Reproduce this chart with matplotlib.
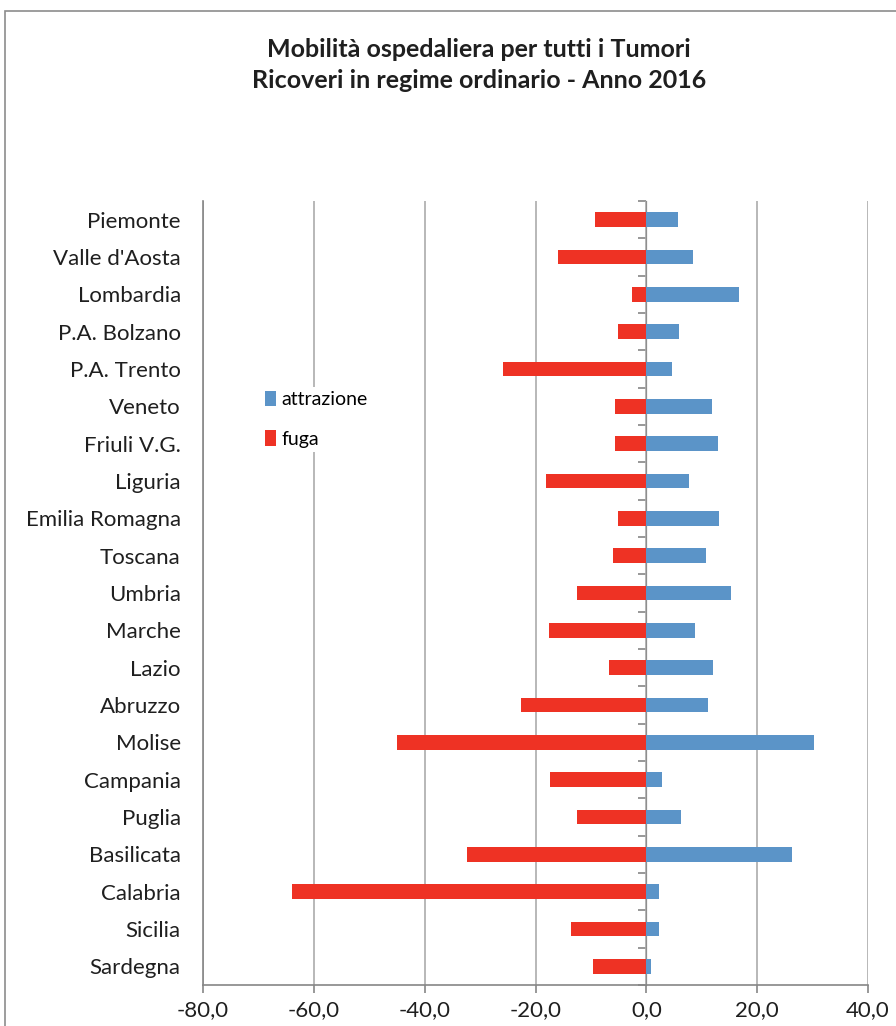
import matplotlib
matplotlib.use("Agg")
import matplotlib.pyplot as plt
import numpy as np
from matplotlib.patches import Patch, Rectangle

FONT = ["Lato", "DejaVu Sans"]
plt.rcParams["font.family"] = FONT

TITLE = "Mobilità ospedaliera per tutti i Tumori\nRicoveri in regime ordinario - Anno 2016"

regions = [
    "Piemonte", "Valle d'Aosta", "Lombardia", "P.A. Bolzano", "P.A. Trento",
    "Veneto", "Friuli V.G.", "Liguria", "Emilia Romagna", "Toscana",
    "Umbria", "Marche", "Lazio", "Abruzzo", "Molise", "Campania",
    "Puglia", "Basilicata", "Calabria", "Sicilia", "Sardegna",
]
attrazione = [5.7, 8.4, 16.7, 5.9, 4.7, 11.8, 13.0, 7.7, 13.1, 10.7,
              15.3, 8.7, 12.1, 11.1, 30.2, 2.9, 6.2, 26.3, 2.3, 2.3, 0.9]
fuga = [-9.3, -15.9, -2.6, -5.1, -25.8, -5.6, -5.6, -18.1, -5.1, -6.0,
        -12.6, -17.5, -6.7, -22.7, -45.0, -17.4, -12.6, -32.3, -64.0, -13.6, -9.7]
x_ticks = [-80, -60, -40, -20, 0, 20, 40]

BLUE = "#5b94c8"
RED = "#ee3224"
GRID = "#ababab"
AXIS = "#868686"
TEXT = "#1f1f1f"

fig = plt.figure(figsize=(8.96, 10.26), dpi=100)
W, H = 896, 1026
ax = fig.add_axes([203 / W, 1 - 985 / H, 665 / W, 784 / H])

# outer chart frame, running off the right and bottom edges
fig.patches.append(Rectangle((5 / W, -0.1), 1.2, 1 - 11 / H + 0.1,
                             transform=fig.transFigure, fill=False,
                             edgecolor="#8c8c8c", linewidth=1.2))

y = np.arange(len(regions))
ax.barh(y, attrazione, height=0.4, color=BLUE, zorder=3)
ax.barh(y, fuga, height=0.4, color=RED, zorder=3)

ax.set_xlim(-80, 40)
ax.set_ylim(len(regions) - 0.5, -0.5)
ax.set_xticks(x_ticks)
ax.set_xticklabels([f"{v:.1f}".replace(".", ",") for v in x_ticks])
ax.set_yticks(y)
ax.set_yticklabels(regions)
ax.tick_params(axis="y", length=0, pad=16, labelsize=16, labelcolor=TEXT)
ax.tick_params(axis="x", length=6, width=1.2, color=AXIS, pad=5,
               labelsize=16, labelcolor=TEXT)

ax.grid(axis="x", color=GRID, linewidth=1.2, zorder=0)
for side in ("top", "right"):
    ax.spines[side].set_visible(False)
for side in ("left", "bottom"):
    ax.spines[side].set_color(AXIS)
    ax.spines[side].set_linewidth(1.2)

# category axis crossing at zero, with ticks between categories
zero_axis = ax.secondary_yaxis(80 / 120)
zero_axis.set_yticks(np.arange(-0.5, len(regions)))
zero_axis.set_yticklabels([])
zero_axis.tick_params(length=6, width=1.2, color=AXIS, direction="in")
zero_axis.spines["left"].set_color(AXIS)
zero_axis.spines["left"].set_linewidth(1.2)

handles = [Patch(facecolor=BLUE, label="attrazione"),
           Patch(facecolor=RED, label="fuga")]
leg = ax.legend(handles=handles, loc="upper left",
                bbox_to_anchor=((251 - 203) / 665, 1 - (377 - 201) / 784),
                frameon=True, fancybox=False, edgecolor="none",
                facecolor="white", framealpha=1, fontsize=14,
                handlelength=0.6, handleheight=0.85, handletextpad=0.25,
                labelspacing=1.15, borderpad=0.2)
leg.set_zorder(5)

fig.text(479 / W, 1 - 65 / H, TITLE, ha="center", va="center",
         fontsize=18, fontweight="bold", color=TEXT, linespacing=1.45)

fig.savefig("out.png", dpi=100, facecolor="white")
